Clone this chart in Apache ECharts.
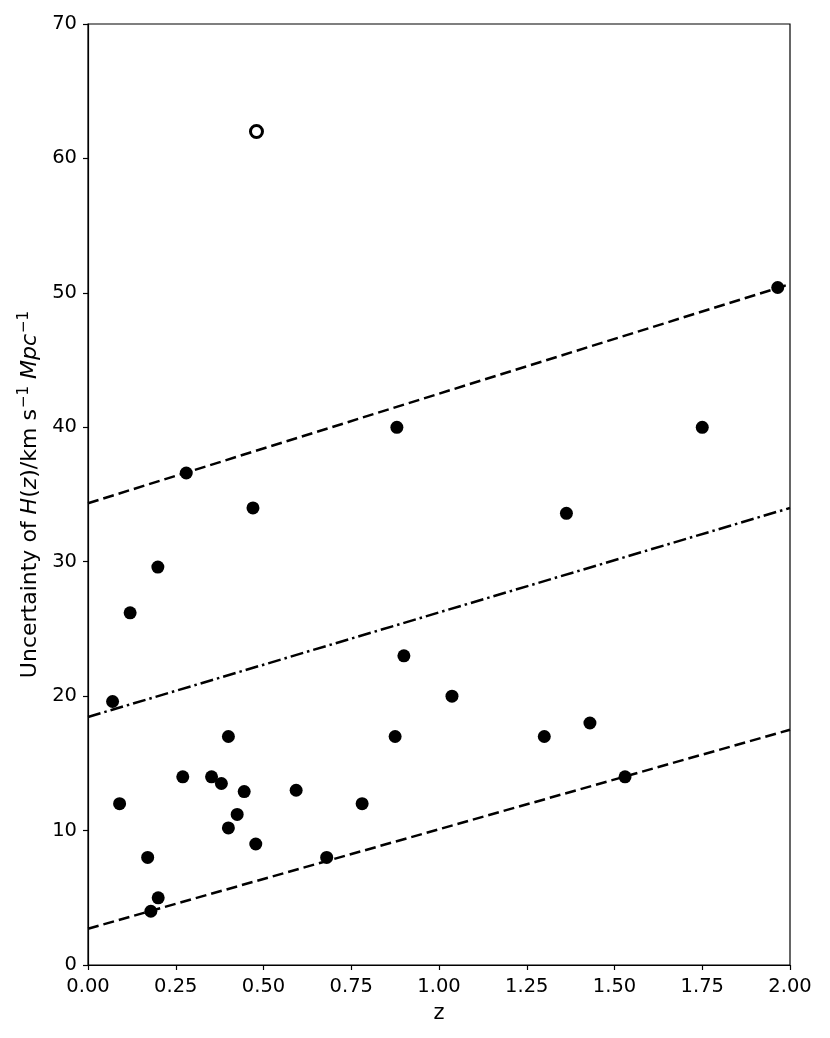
<!DOCTYPE html>
<html>
<head>
<meta charset="utf-8">
<script src="https://cdn.jsdelivr.net/npm/echarts@6/dist/echarts.min.js"></script>
<style>
  html, body { margin: 0; padding: 0; background: #fff; }
  #main { width: 830px; height: 1038px; }
</style>
</head>
<body>
<div id="main"></div>
<script>
// measured points (z, uncertainty)
var zVals = [0.07, 0.09, 0.12, 0.17, 0.179, 0.199, 0.20, 0.27, 0.28, 0.352, 0.38, 0.40, 0.40, 0.425, 0.445, 0.47, 0.478, 0.593, 0.68, 0.781, 0.875, 0.88, 0.90, 1.037, 1.30, 1.363, 1.43, 1.53, 1.75, 1.965];
var errVals = [19.6, 12, 26.2, 8, 4, 29.6, 5, 14, 36.6, 14, 13.5, 17, 10.2, 11.2, 12.9, 34, 9, 13, 8, 12, 17, 40, 23, 20, 17, 33.6, 18, 14, 40, 50.4];

// outlier drawn as open circle
var outlierZ = [0.48];
var outlierErr = [62];

// guide lines: values at z = 0 and z = 2
var lineZ = [0, 2];
var upperLine = [34.35, 50.65];
var middleLine = [18.45, 34.0];
var lowerLine = [2.7, 17.5];

var xTicks = ['0.00', '0.25', '0.50', '0.75', '1.00', '1.25', '1.50', '1.75', '2.00'];

function pairs(xs, ys) {
  return xs.map(function (x, i) { return [x, ys[i]]; });
}

var chart = echarts.init(document.getElementById('main'));
var font = 'DejaVu Sans';

chart.setOption({
  animation: false,
  grid: {
    left: 88, right: 40, top: 24, bottom: 73,
    show: true, borderColor: '#000', borderWidth: 1.2, backgroundColor: 'transparent'
  },
  xAxis: {
    type: 'value', min: 0, max: 2, interval: 0.25,
    name: 'z', nameLocation: 'middle', nameGap: 38,
    nameTextStyle: { fontFamily: font, fontSize: 21, color: '#000' },
    axisLine: { show: true, lineStyle: { color: '#000', width: 1.2 } },
    axisTick: { show: true, inside: false, length: 5, lineStyle: { color: '#000', width: 1.2 } },
    axisLabel: {
      fontFamily: font, fontSize: 19.5, color: '#000', margin: 12,
      formatter: function (v) { return xTicks[Math.round(v / 0.25)]; }
    },
    splitLine: { show: false }
  },
  yAxis: {
    type: 'value', min: 0, max: 70, interval: 10,
    name: '{a|Uncertainty of }{i|H}{a|(}{i|z}{a|)/km s}{s|−1}{a| }{i|Mpc}{s|−1}',
    nameLocation: 'middle', nameGap: 40, nameRotate: 90,
    nameTextStyle: {
      rich: {
        a: { fontFamily: font, fontSize: 22, color: '#000' },
        i: { fontFamily: font, fontSize: 22, fontStyle: 'italic', color: '#000' },
        s: { fontFamily: font, fontSize: 15, color: '#000', padding: [0, 0, 13, 1] }
      }
    },
    axisLine: { show: true, lineStyle: { color: '#000', width: 1.2 } },
    axisTick: { show: true, inside: false, length: 5, lineStyle: { color: '#000', width: 1.2 } },
    axisLabel: { fontFamily: font, fontSize: 19.5, color: '#000', margin: 11 },
    splitLine: { show: false }
  },
  series: [
    {
      type: 'line', data: pairs(lineZ, upperLine), symbol: 'none', z: 1,
      lineStyle: { color: '#000', width: 2.5, type: [11, 5] }
    },
    {
      type: 'line', data: pairs(lineZ, middleLine), symbol: 'none', z: 1,
      lineStyle: { color: '#000', width: 2.5, type: [13, 4, 2.5, 4] }
    },
    {
      type: 'line', data: pairs(lineZ, lowerLine), symbol: 'none', z: 1,
      lineStyle: { color: '#000', width: 2.5, type: [11, 5] }
    },
    {
      type: 'scatter', data: pairs(zVals, errVals), symbol: 'circle', symbolSize: 13, z: 3,
      itemStyle: { color: '#000', opacity: 1 }
    },
    {
      type: 'scatter', data: pairs(outlierZ, outlierErr), symbol: 'circle', symbolSize: 12, z: 3,
      itemStyle: { color: '#fff', borderColor: '#000', borderWidth: 3, opacity: 1 }
    }
  ]
});
</script>
</body>
</html>
